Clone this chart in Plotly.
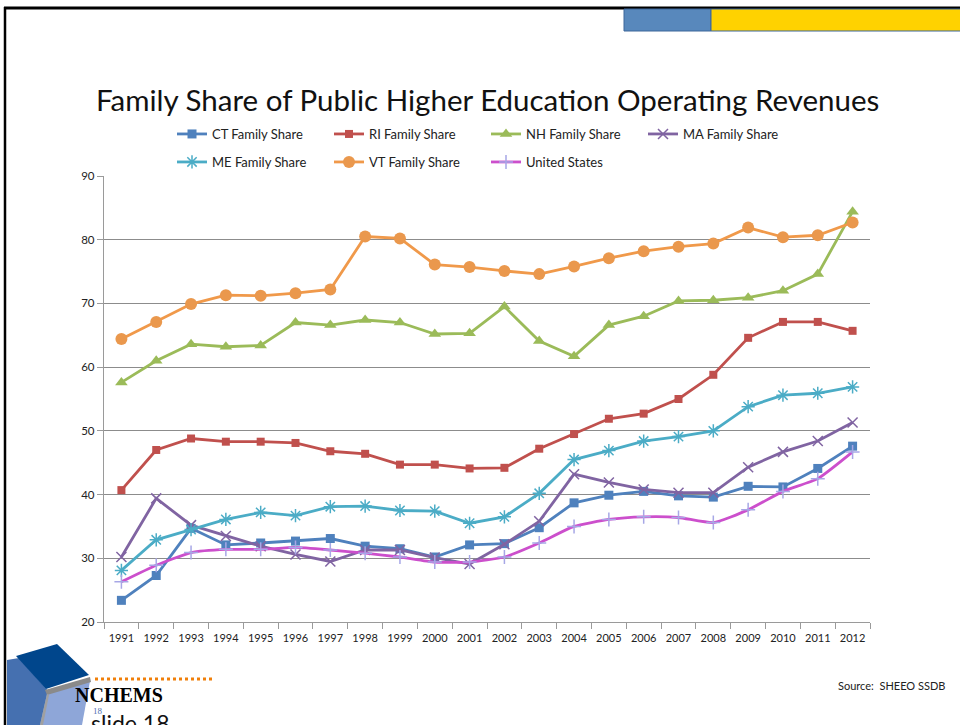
import plotly.graph_objects as go

years = list(range(1991, 2013))

ct_share = [23.4, 27.3, 34.7, 32.1, 32.4, 32.7, 33.1, 31.9, 31.5, 30.2, 32.1,
            32.3, 34.8, 38.7, 39.9, 40.5, 39.8, 39.6, 41.3, 41.2, 44.1, 47.6]
ri_share = [40.7, 47.0, 48.8, 48.3, 48.3, 48.1, 46.8, 46.4, 44.7, 44.7, 44.1,
            44.2, 47.2, 49.5, 51.9, 52.7, 55.0, 58.8, 64.6, 67.1, 67.1, 65.7]
nh_share = [57.6, 61.0, 63.6, 63.2, 63.4, 67.0, 66.6, 67.4, 67.0, 65.2, 65.3,
            69.5, 64.1, 61.7, 66.6, 68.0, 70.4, 70.5, 70.9, 72.0, 74.6, 84.4]
ma_share = [30.2, 39.4, 35.2, 33.5, 31.9, 30.6, 29.5, 31.3, 31.3, 30.1, 29.1,
            32.2, 35.8, 43.2, 41.9, 40.8, 40.3, 40.3, 44.3, 46.7, 48.4, 51.3]
me_share = [28.1, 32.9, 34.5, 36.1, 37.2, 36.7, 38.1, 38.2, 37.5, 37.4, 35.5,
            36.5, 40.2, 45.5, 46.9, 48.4, 49.1, 50.0, 53.8, 55.6, 55.9, 56.9]
vt_share = [64.4, 67.1, 69.9, 71.3, 71.2, 71.6, 72.2, 80.5, 80.2, 76.1, 75.7,
            75.1, 74.6, 75.8, 77.1, 78.2, 78.9, 79.4, 81.9, 80.4, 80.7, 82.7]
us_share = [26.3, 28.9, 30.9, 31.4, 31.4, 31.7, 31.3, 30.8, 30.2, 29.4, 29.4,
            30.2, 32.4, 35.0, 36.1, 36.5, 36.4, 35.6, 37.6, 40.5, 42.5, 46.7]

y_ticks = [20, 30, 40, 50, 60, 70, 80, 90]

W, H = 960, 725
L, R, T, B = 104, 870, 176, 622
FONT = "Lato"


def px(x):
    return (x - L) / (R - L)


def py(y):
    return (B - y) / (B - T)


series = [
    ("CT Family Share", ct_share, "#4F81BD", dict(symbol="square", size=9, color="#4F81BD"), "legend", "linear"),
    ("RI Family Share", ri_share, "#C0504D", dict(symbol="square", size=8, color="#C0504D"), "legend", "linear"),
    ("NH Family Share", nh_share, "#9BBB59", dict(symbol="triangle-up", size=11, color="#9BBB59"), "legend", "linear"),
    ("MA Family Share", ma_share, "#8064A2", dict(symbol="x-thin-open", size=10, color="#8064A2",
                                                   line=dict(width=1.5, color="#8064A2")), "legend", "linear"),
    ("ME Family Share", me_share, "#4BACC6", dict(symbol="asterisk-open", size=11, color="#4BACC6",
                                                   line=dict(width=1.5, color="#4BACC6")), "legend2", "linear"),
    ("VT Family Share", vt_share, "#F0994A", dict(symbol="circle", size=12, color="#EA984D"), "legend2", "linear"),
    ("United States", us_share, "#CC4FCC", dict(symbol="cross-thin-open", size=10, color="#A7A7E6",
                                                 line=dict(width=1.5, color="#A7A7E6")), "legend2", "spline"),
]

fig = go.Figure()
for name, vals, color, marker, leg, shape in series:
    fig.add_trace(go.Scatter(
        x=years, y=vals, name=name, mode="lines+markers",
        line=dict(color=color, width=2.8, shape=shape, smoothing=0.5),
        marker=marker, legend=leg,
    ))

legend_common = dict(
    orientation="h", entrywidth=112, entrywidthmode="pixels",
    xanchor="left", yanchor="middle", bgcolor="rgba(0,0,0,0)",
    font=dict(family=FONT, size=13, color="#222"), itemwidth=30,
    tracegroupgap=0,
)

fig.update_layout(
    width=W, height=H,
    margin=dict(l=L, r=W - R, t=T, b=H - B, pad=0),
    paper_bgcolor="white", plot_bgcolor="white",
    showlegend=True,
    legend=dict(x=px(172), y=py(134), **legend_common),
    legend2=dict(x=px(172), y=py(162), **legend_common),
    xaxis=dict(
        range=[1990.5, 2012.5], tickmode="array", tickvals=years,
        ticktext=[str(y) for y in years], ticks="", showgrid=False,
        showline=True, linecolor="#9a9a9a", linewidth=1.3,
        tickfont=dict(family=FONT, size=11, color="#222"),
        ticklabelstandoff=6,
        minor=dict(tickmode="array", tickvals=[y - 0.5 for y in years] + [2012.5],
                   ticks="outside", ticklen=6, tickcolor="#9a9a9a", showgrid=False),
        zeroline=False, fixedrange=True,
    ),
    yaxis=dict(
        range=[20, 90], tickmode="array", tickvals=y_ticks,
        showgrid=True, gridcolor="#8c8c8c", gridwidth=1,
        showline=True, linecolor="#9a9a9a", linewidth=1.3,
        ticks="outside", ticklen=6, tickcolor="#9a9a9a",
        tickfont=dict(family=FONT, size=11.5, color="#222"),
        zeroline=False, fixedrange=True,
    ),
)

# Chart title
fig.add_annotation(
    text="Family Share of Public Higher Education Operating Revenues",
    xref="paper", yref="paper", x=px(487), y=py(100), showarrow=False,
    xanchor="center", yanchor="middle",
    font=dict(family=FONT, size=29.5, color="#111"),
)

PAPER = dict(xref="paper", yref="paper")

# Slide frame and header bars
shapes = [
    dict(type="line", x0=px(4), x1=px(961), y0=py(8), y1=py(8), line=dict(color="black", width=3), **PAPER),
    dict(type="line", x0=px(5), x1=px(5), y0=py(7), y1=py(726), line=dict(color="black", width=2.5), **PAPER),
    dict(type="rect", x0=px(624), x1=px(711), y0=py(31), y1=py(9),
         fillcolor="#5888BC", line=dict(color="#3D679A", width=1), **PAPER),
    dict(type="rect", x0=px(711), x1=px(962), y0=py(31), y1=py(9),
         fillcolor="#FFD200", line=dict(color="#3D679A", width=1), **PAPER),
    # orange dotted rule
    dict(type="line", x0=px(95), x1=px(212), y0=py(679), y1=py(679),
         line=dict(color="#F07F09", width=3, dash="dot"), **PAPER),
]


def poly(points, fill):
    d = "M " + " L ".join(f"{px(x)} {py(y)}" for x, y in points) + " Z"
    return dict(type="path", path=d, fillcolor=fill,
                line=dict(color=fill, width=0), **PAPER)


# NCHEMS cube logo
shapes += [
    poly([(7, 660), (19, 658), (49, 692), (42, 725), (7, 725)], "#4570B0"),
    poly([(47, 694), (90, 681), (82, 725), (40, 725)], "#8EA6D8"),
    poly([(45, 690), (90, 677), (91, 682), (47, 695)], "#8A8A8A"),
    poly([(16, 656), (57, 644), (89, 675), (46, 689)], "#00468C"),
    poly([(40, 725), (47, 694), (49, 695), (43, 725)], "#A0A0A0"),
]
fig.update_layout(shapes=shapes)

fig.add_annotation(text="<b>NCHEMS</b>", x=px(73), y=py(695), xanchor="left", yanchor="middle",
                   showarrow=False, font=dict(family="Liberation Serif", size=20, color="black"), **PAPER)
fig.add_annotation(text="slide 18", x=px(89), y=py(707), xanchor="left", yanchor="top",
                   showarrow=False, font=dict(family=FONT, size=23, color="#111"), **PAPER)
fig.add_annotation(text="18", x=px(91), y=py(711), xanchor="left", yanchor="middle",
                   showarrow=False, font=dict(family="Liberation Serif", size=9, color="#4F6FB0"), **PAPER)
fig.add_annotation(text="Source:  SHEEO SSDB", x=px(836), y=py(685), xanchor="left", yanchor="middle",
                   showarrow=False, font=dict(family=FONT, size=11, color="#222"), **PAPER)

fig.write_html("out.html")
